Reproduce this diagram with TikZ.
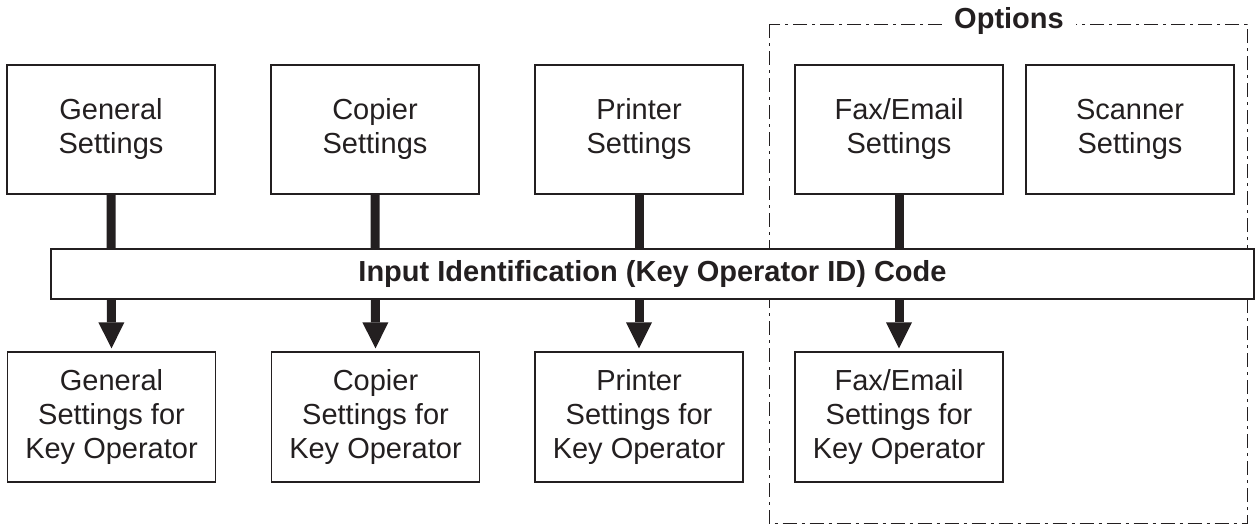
\documentclass[tikz,border=0pt]{standalone}
\usepackage{fontspec}
\newfontfamily\helv{Liberation Sans}
\usetikzlibrary{arrows.meta}
\definecolor{ink}{RGB}{35,31,32}
\newcommand\boxfont{\helv\fontsize{29}{34}\selectfont}
\tikzset{
  box/.style={draw=ink, line width=1.3pt, fill=white, minimum width=208pt,
    minimum height=129pt, inner sep=0pt, align=center, font=\boxfont, text=ink},
  shaft/.style={draw=ink, line width=9pt},
  tipshaft/.style={shaft, -{Triangle[length=26pt,width=26pt,line width=0pt]}, shorten >=3pt},
  optframe/.style={draw=ink, line width=1pt, dash pattern=on 14pt off 5pt on 3pt off 5pt},
  barbox/.style={draw=ink, line width=1.3pt, fill=white, minimum width=1203pt,
    minimum height=50pt, inner sep=0pt, font=\boxfont\bfseries, text=ink}
}
\begin{document}
\begin{tikzpicture}[x=1pt,y=-1pt]
\useasboundingbox (0,0) rectangle (1259,525);
% options frame
\draw[optframe] (769,24) rectangle (1247,523.5);
\node[anchor=base, fill=white, inner xsep=12pt, inner ysep=2pt, font=\boxfont\bfseries, text=ink] (opt) at (1009,28) {Options};
% top boxes
\node[box] (t1) at (111,129.5) {General\\Settings};
\node[box] (t2) at (375,129.5) {Copier\\Settings};
\node[box] (t3) at (639,129.5) {Printer\\Settings};
\node[box] (t4) at (899,129.5) {Fax/Email\\Settings};
\node[box] (t5) at (1130,129.5) {Scanner\\Settings};
% bottom boxes
\node[box, minimum height=130pt] (b1) at (111.5,417) {General\\Settings for\\Key Operator};
\node[box, minimum height=130pt] (b2) at (375.5,417) {Copier\\Settings for\\Key Operator};
\node[box, minimum height=130pt] (b3) at (639,417) {Printer\\Settings for\\Key Operator};
\node[box, minimum height=130pt] (b4) at (899,417) {Fax/Email\\Settings for\\Key Operator};
% shafts
\draw[tipshaft] (t1.south) -- (b1.north);
\draw[tipshaft] (t2.south) -- (b2.north);
\draw[tipshaft] (t3.south) -- (b3.north);
\draw[tipshaft] (t4.south) -- (b4.north);
% bar
\node[barbox] (bar) at (652.5,274) {Input Identification (Key Operator ID) Code};
\end{tikzpicture}
\end{document}
